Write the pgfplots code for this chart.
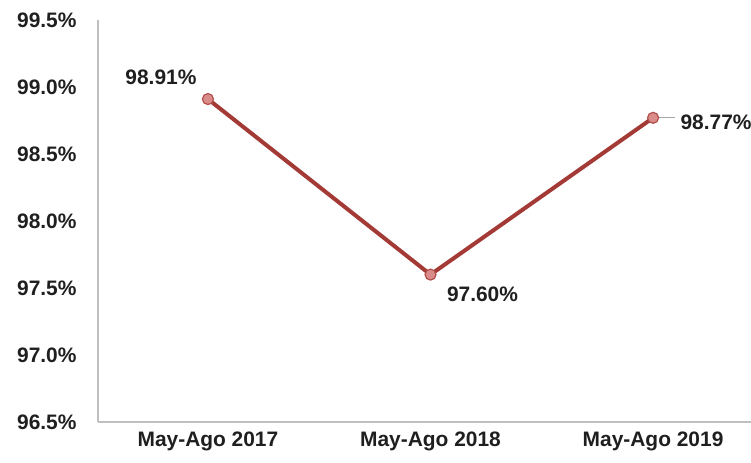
\documentclass[border=0pt]{standalone}
\usepackage{fontspec}
\setmainfont{Liberation Sans}
\usepackage{pgfplots}
\pgfplotsset{compat=1.18}

\definecolor{linered}{HTML}{A33A36}
\definecolor{markfill}{HTML}{D98C8A}
\definecolor{markedge}{HTML}{B24E4B}
\definecolor{axisgray}{HTML}{BFBFBF}
\definecolor{txt}{HTML}{1F1F1F}

\begin{document}
\begin{tikzpicture}
\begin{axis}[
    at={(0,0)}, anchor=south west,
    scale only axis,
    width=653bp, height=402bp,
    xmin=-0.494, xmax=2.44,
    ymin=96.5, ymax=99.5,
    axis x line*=bottom, axis y line*=left,
    axis line style={axisgray, line width=1.2bp},
    xtick={0,1,2},
    xticklabels={May-Ago 2017, May-Ago 2018, May-Ago 2019},
    ytick={96.5,97,97.5,98,98.5,99,99.5},
    yticklabel={\pgfmathprintnumber[fixed,fixed zerofill,precision=1]{\tick}\%},
    /pgf/number format/assume math mode=true,
    major tick length=0pt,
    tick label style={font=\fontsize{21}{25}\selectfont\bfseries, text=txt},
    yticklabel style={xshift=-18bp},
    xticklabel style={yshift=-6bp},
    clip=false,
]
\addplot[linered, line width=4bp, mark=*, mark size=5.5bp,
    mark options={fill=markfill, draw=markedge, line width=1.2bp}]
    coordinates {(0,98.91) (1,97.60) (2,98.77)};
\draw[gray!70, line width=1bp] ([xshift=6bp]axis cs:2,98.77) -- ([xshift=22bp]axis cs:2,98.77);
\node[font=\fontsize{21}{25}\selectfont\bfseries, text=txt] at (axis cs:0,98.91) [xshift=-47bp, yshift=22bp] {98.91\%};
\node[font=\fontsize{21}{25}\selectfont\bfseries, text=txt] at (axis cs:1,97.60) [xshift=52bp, yshift=-20bp] {97.60\%};
\node[font=\fontsize{21}{25}\selectfont\bfseries, text=txt, anchor=west] at (axis cs:2,98.77) [xshift=24bp, yshift=-4bp] {98.77\%};
\end{axis}
\pgfresetboundingbox
\path (-98bp,-41bp) rectangle (653bp,422bp);
\end{tikzpicture}
\end{document}
